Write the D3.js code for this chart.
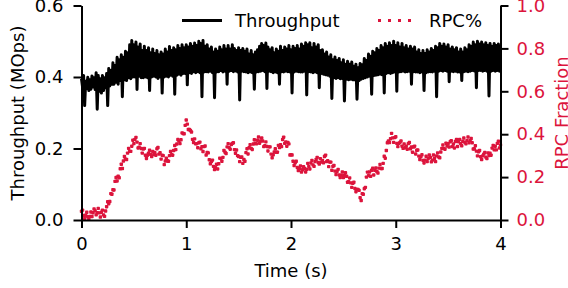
<!DOCTYPE html>
<html><head><meta charset="utf-8">
<script src="https://cdn.jsdelivr.net/npm/d3@7"></script>
<style>body{margin:0;background:#fff} text{font-family:"DejaVu Sans",sans-serif}</style>
</head><body><svg id="c" width="568" height="288"></svg>
<script>
const timeTicks=[0,1,2,3,4];
const thrTicks=[0.0,0.2,0.4,0.6];
const rpcTicks=[0.0,0.2,0.4,0.6,0.8,1.0];
const sampleStep=0.01; // seconds between samples
const seriesNames=["Throughput","RPC%"];
const axisTitles={x:"Time (s)",left:"Throughput (MOps)",right:"RPC Fraction"};

// Throughput (MOps), one value per 0.01 s
const throughput=[
0.395,0.372,0.404,0.32,0.388,0.368,0.399,0.362,0.392,0.366,
0.403,0.372,0.398,0.365,0.412,0.31,0.404,0.36,0.395,0.355,
0.404,0.362,0.398,0.37,0.41,0.32,0.424,0.375,0.418,0.38,
0.44,0.38,0.432,0.385,0.455,0.38,0.448,0.39,0.462,0.345,
0.455,0.392,0.472,0.39,0.468,0.398,0.49,0.395,0.502,0.40,
0.49,0.40,0.498,0.365,0.484,0.402,0.492,0.398,0.474,0.398,
0.486,0.40,0.474,0.398,0.482,0.362,0.468,0.40,0.478,0.402,
0.466,0.40,0.474,0.396,0.462,0.40,0.47,0.355,0.464,0.40,
0.478,0.402,0.47,0.40,0.485,0.405,0.474,0.402,0.482,0.352,
0.476,0.405,0.488,0.408,0.48,0.405,0.49,0.41,0.482,0.41,
0.49,0.378,0.484,0.412,0.494,0.41,0.486,0.415,0.495,0.412,
0.488,0.415,0.5,0.412,0.494,0.345,0.502,0.414,0.486,0.415,
0.49,0.414,0.478,0.416,0.484,0.412,0.47,0.342,0.478,0.414,
0.472,0.415,0.484,0.418,0.476,0.414,0.488,0.416,0.478,0.38,
0.488,0.416,0.478,0.418,0.49,0.415,0.48,0.417,0.474,0.414,
0.482,0.336,0.474,0.416,0.48,0.415,0.472,0.414,0.478,0.412,
0.464,0.414,0.474,0.412,0.462,0.366,0.47,0.414,0.476,0.415,
0.486,0.416,0.494,0.418,0.488,0.415,0.495,0.368,0.484,0.416,
0.476,0.415,0.482,0.412,0.468,0.414,0.478,0.412,0.472,0.38,
0.486,0.415,0.474,0.414,0.484,0.416,0.478,0.415,0.488,0.414,
0.476,0.355,0.486,0.414,0.48,0.416,0.488,0.415,0.478,0.414,
0.492,0.414,0.486,0.416,0.496,0.35,0.49,0.415,0.496,0.414,
0.482,0.412,0.494,0.414,0.484,0.412,0.49,0.37,0.474,0.41,
0.476,0.408,0.464,0.406,0.47,0.405,0.456,0.402,0.462,0.34,
0.448,0.398,0.456,0.396,0.446,0.398,0.452,0.395,0.44,0.396,
0.448,0.333,0.436,0.394,0.444,0.392,0.436,0.394,0.442,0.392,
0.43,0.392,0.436,0.338,0.426,0.39,0.438,0.394,0.434,0.396,
0.452,0.398,0.446,0.40,0.464,0.402,0.458,0.352,0.472,0.404,
0.468,0.405,0.48,0.406,0.474,0.408,0.488,0.406,0.482,0.355,
0.494,0.41,0.486,0.412,0.496,0.41,0.488,0.412,0.5,0.414,
0.488,0.36,0.496,0.414,0.484,0.415,0.494,0.416,0.482,0.414,
0.488,0.415,0.478,0.416,0.486,0.38,0.478,0.415,0.484,0.414,
0.47,0.414,0.476,0.412,0.466,0.414,0.474,0.362,0.466,0.412,
0.476,0.414,0.47,0.415,0.48,0.414,0.474,0.416,0.486,0.345,
0.482,0.416,0.494,0.418,0.486,0.416,0.492,0.418,0.484,0.416,
0.49,0.387,0.478,0.416,0.484,0.415,0.476,0.416,0.482,0.414,
0.47,0.414,0.478,0.39,0.47,0.415,0.482,0.416,0.476,0.415,
0.49,0.416,0.486,0.418,0.498,0.417,0.49,0.37,0.5,0.418,
0.492,0.418,0.498,0.416,0.49,0.418,0.496,0.416,0.488,0.347,
0.494,0.416,0.486,0.418,0.494,0.416,0.488,0.418,0.492,0.416,
0.49];

// RPC fraction, one value per 0.01 s
const rpcFraction=[
0.04,0.046,0.021,0.006,0.022,0.036,0.015,0.005,0.016,0.037,
0.016,0.034,0.052,0.043,0.024,0.034,0.054,0.033,0.014,0.036,
0.046,0.024,0.017,0.042,0.062,0.085,0.076,0.086,0.123,0.12,
0.141,0.14,0.18,0.198,0.182,0.204,0.197,0.239,0.26,0.24,
0.275,0.296,0.284,0.282,0.312,0.334,0.32,0.32,0.344,0.372,
0.356,0.376,0.385,0.363,0.336,0.339,0.356,0.333,0.312,0.331,
0.334,0.302,0.287,0.302,0.312,0.325,0.306,0.296,0.32,0.305,
0.314,0.302,0.332,0.338,0.307,0.314,0.284,0.302,0.30,0.258,
0.275,0.288,0.276,0.274,0.30,0.319,0.305,0.302,0.324,0.347,
0.328,0.354,0.375,0.368,0.356,0.374,0.406,0.403,0.402,0.441,
0.466,0.447,0.422,0.422,0.417,0.41,0.376,0.361,0.378,0.355,
0.356,0.337,0.36,0.363,0.332,0.342,0.319,0.342,0.345,0.303,
0.315,0.313,0.281,0.262,0.272,0.279,0.25,0.235,0.244,0.26,
0.238,0.262,0.288,0.286,0.274,0.292,0.324,0.316,0.31,0.341,
0.356,0.337,0.33,0.352,0.357,0.36,0.328,0.311,0.326,0.30,
0.296,0.272,0.292,0.294,0.264,0.282,0.274,0.314,0.332,0.308,
0.337,0.351,0.334,0.329,0.354,0.374,0.358,0.355,0.372,0.387,
0.358,0.369,0.382,0.368,0.342,0.346,0.364,0.343,0.322,0.341,
0.341,0.307,0.29,0.304,0.317,0.332,0.316,0.316,0.348,0.338,
0.351,0.342,0.375,0.386,0.357,0.364,0.344,0.362,0.355,0.303,
0.305,0.303,0.274,0.254,0.267,0.274,0.245,0.23,0.239,0.252,
0.223,0.234,0.248,0.24,0.224,0.236,0.264,0.25,0.238,0.266,
0.278,0.257,0.25,0.272,0.282,0.292,0.268,0.261,0.286,0.27,
0.278,0.267,0.296,0.302,0.272,0.276,0.249,0.27,0.27,0.232,
0.25,0.254,0.228,0.212,0.227,0.236,0.21,0.198,0.209,0.224,
0.198,0.209,0.22,0.204,0.176,0.179,0.196,0.173,0.152,0.171,
0.176,0.147,0.132,0.142,0.142,0.138,0.104,0.091,0.123,0.12,
0.146,0.152,0.20,0.223,0.207,0.224,0.204,0.232,0.242,0.21,
0.232,0.243,0.226,0.219,0.242,0.259,0.24,0.24,0.264,0.297,
0.288,0.324,0.36,0.368,0.361,0.379,0.404,0.383,0.362,0.384,
0.388,0.357,0.342,0.357,0.362,0.368,0.344,0.334,0.355,0.337,
0.344,0.33,0.356,0.361,0.332,0.34,0.316,0.34,0.344,0.308,
0.325,0.326,0.298,0.282,0.296,0.304,0.278,0.266,0.279,0.297,
0.272,0.287,0.303,0.292,0.271,0.279,0.303,0.287,0.272,0.299,
0.313,0.294,0.29,0.317,0.334,0.35,0.333,0.33,0.358,0.345,
0.356,0.34,0.365,0.37,0.342,0.354,0.336,0.366,0.375,0.343,
0.365,0.376,0.356,0.346,0.367,0.382,0.362,0.355,0.37,0.387,
0.36,0.37,0.38,0.36,0.331,0.332,0.346,0.321,0.299,0.318,
0.324,0.295,0.282,0.299,0.307,0.315,0.293,0.286,0.313,0.30,
0.311,0.302,0.335,0.348,0.327,0.344,0.327,0.357,0.367,0.336,
0.35];

const CRIMSON="#dc143c";
const FS=18;
const svg=d3.select("#c");
const x=d3.scaleLinear().domain([0,4]).range([81.5,500.5]);
const yL=d3.scaleLinear().domain([0,0.6]).range([220,5.5]);
const yR=d3.scaleLinear().domain([0,1]).range([220,5.5]);
const fmt=d3.format(".1f");

// throughput line
svg.append("path")
  .datum(throughput)
  .attr("fill","none").attr("stroke","#000").attr("stroke-width",3)
  .attr("stroke-linejoin","round")
  .attr("d",d3.line().x((d,i)=>x(i*sampleStep)).y(d=>yL(d)));

// rpc dots
svg.append("g").selectAll("rect").data(rpcFraction).join("rect")
  .attr("x",(d,i)=>x(i*sampleStep)-1.7).attr("y",d=>yR(d)-1.7)
  .attr("width",3.4).attr("height",3.4).attr("rx",0.8)
  .attr("fill",CRIMSON);

function styleAxis(g,color){
  g.selectAll("path.domain").attr("stroke","#000").attr("stroke-width",2);
  g.selectAll(".tick line").attr("stroke","#000").attr("stroke-width",2);
  g.selectAll(".tick text").attr("fill",color).attr("font-size",FS)
    .attr("font-family","DejaVu Sans");
}
const gx=svg.append("g").attr("transform","translate(0,220)")
  .call(d3.axisBottom(x).tickValues(timeTicks).tickFormat(d3.format("d")).tickSize(8).tickSizeOuter(0).tickPadding(9));
styleAxis(gx,"#000");
const gl=svg.append("g").attr("transform","translate(81.5,0)")
  .call(d3.axisLeft(yL).tickValues(thrTicks).tickFormat(fmt).tickSize(8).tickSizeOuter(0).tickPadding(10));
styleAxis(gl,"#000");
const gr=svg.append("g").attr("transform","translate(500.5,0)")
  .call(d3.axisRight(yR).tickValues(rpcTicks).tickFormat(fmt).tickSize(8).tickSizeOuter(0).tickPadding(8));
styleAxis(gr,CRIMSON);

// axis titles
svg.append("text").attr("x",291).attr("y",277).attr("text-anchor","middle")
  .attr("font-size",FS).text(axisTitles.x);
svg.append("text").attr("transform","translate(24,113) rotate(-90)").attr("text-anchor","middle")
  .attr("font-size",FS).text(axisTitles.left);
svg.append("text").attr("transform","translate(568,113) rotate(-90)").attr("text-anchor","middle")
  .attr("font-size",FS).attr("fill",CRIMSON).text(axisTitles.right);

// legend
const leg=svg.append("g");
leg.append("line").attr("x1",182).attr("x2",222).attr("y1",20.5).attr("y2",20.5)
  .attr("stroke","#000").attr("stroke-width",3);
leg.append("text").attr("x",235).attr("y",27).attr("font-size",FS).text(seriesNames[0]);
leg.append("line").attr("x1",378).attr("x2",418).attr("y1",20.5).attr("y2",20.5)
  .attr("stroke",CRIMSON).attr("stroke-width",3).attr("stroke-dasharray","3,7");
leg.append("text").attr("x",429).attr("y",27).attr("font-size",FS).text(seriesNames[1]);
</script></body></html>
